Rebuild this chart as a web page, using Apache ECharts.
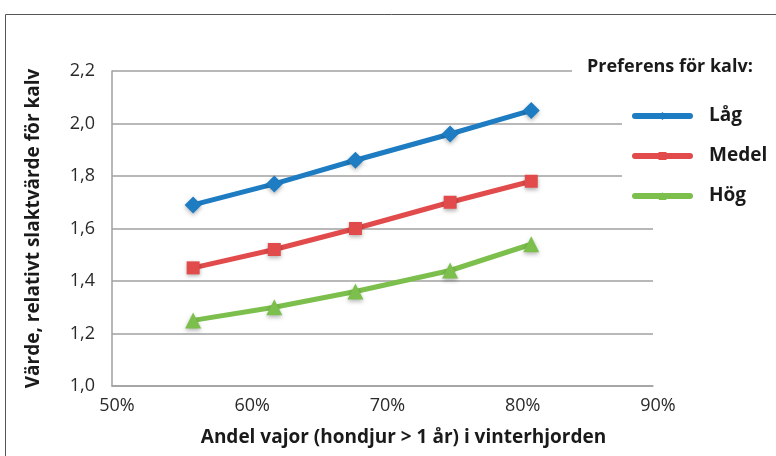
<!DOCTYPE html>
<html>
<head>
<meta charset="utf-8">
<script src="https://cdn.jsdelivr.net/npm/echarts@6/dist/echarts.min.js"></script>
<style>
html,body{margin:0;padding:0;background:#fff;}
#chart{width:776px;height:456px;}
</style>
</head>
<body>
<div id="chart"></div>
<script>
const xValues = [56, 62, 68, 75, 81];
const seriesNames = ['Låg', 'Medel', 'Hög'];
const lagValues = [1.69, 1.77, 1.86, 1.96, 2.05];
const medelValues = [1.45, 1.52, 1.60, 1.70, 1.78];
const hogValues = [1.25, 1.30, 1.36, 1.44, 1.54];
const xTitle = 'Andel vajor (hondjur > 1 år) i vinterhjorden';
const yTitle = 'Värde, relativt slaktvärde för kalv';
const legendTitle = 'Preferens för kalv:';

const FONT = '"Open Sans", "Noto Sans", sans-serif';
const colors = ['#1e7cc2', '#e24b4b', '#7cbf4d'];
const symbols = ['diamond', 'rect', 'triangle'];
const symbolSizes = [17, 13, 16];
const allValues = [lagValues, medelValues, hogValues];

const chart = echarts.init(document.getElementById('chart'), null, {renderer: 'canvas'});

const series = seriesNames.map((name, i) => ({
  name: name,
  type: 'line',
  data: xValues.map((x, j) => [x, allValues[i][j]]),
  symbol: symbols[i],
  symbolSize: symbolSizes[i],
  showSymbol: true,
  lineStyle: {width: 5, color: colors[i]},
  itemStyle: {color: colors[i], shadowBlur: 4, shadowColor: 'rgba(0,0,0,0.3)', shadowOffsetY: 2},
  emphasis: {disabled: true},
  z: 3 + (2 - i)
}));

chart.setOption({
  animation: false,
  textStyle: {fontFamily: FONT},
  graphic: [{
    type: 'rect',
    z: -1,
    shape: {x: 5.5, y: 14.5, width: 800, height: 500},
    style: {fill: 'none', stroke: '#555', lineWidth: 1}
  }],
  title: {
    text: legendTitle,
    left: 572,
    top: 54,
    padding: [4, 4, 4, 15],
    backgroundColor: '#fff',
    textStyle: {fontFamily: FONT, fontSize: 18, fontWeight: 'bold', color: '#1a1a1a'}
  },
  legend: {
    orient: 'vertical',
    left: 622,
    top: 101,
    padding: [5, 10, 5, 10],
    backgroundColor: '#fff',
    itemWidth: 55,
    itemHeight: 10,
    itemGap: 20,
    data: seriesNames,
    lineStyle: {width: 6, cap: 'round'},
    textStyle: {fontFamily: FONT, fontSize: 19, fontWeight: 'bold', color: '#1a1a1a', lineHeight: 20, padding: [0, 0, 0, 14]}
  },
  grid: {left: 112, right: 123, top: 71, bottom: 70, containLabel: false},
  xAxis: {
    type: 'value',
    min: 50,
    max: 90,
    interval: 10,
    name: xTitle,
    nameLocation: 'middle',
    nameGap: 42,
    nameTextStyle: {fontFamily: FONT, fontSize: 19, fontWeight: 'bold', color: '#1a1a1a', padding: [0, 0, 0, 42]},
    axisLine: {show: true, lineStyle: {color: '#a0a0a0', width: 1.5}},
    axisTick: {show: false},
    splitLine: {show: false},
    axisLabel: {
      formatter: v => v + '%',
      fontFamily: FONT, fontSize: 18, color: '#2a2a2a', margin: 11,
      padding: [0, 0, 0, 10]
    }
  },
  yAxis: {
    type: 'value',
    min: 1.0,
    max: 2.2,
    interval: 0.2,
    name: yTitle,
    nameLocation: 'middle',
    nameRotate: 90,
    nameGap: 69,
    nameTextStyle: {fontFamily: FONT, fontSize: 19, fontWeight: 'bold', color: '#1a1a1a'},
    axisLine: {show: true, lineStyle: {color: '#a0a0a0', width: 1.5}},
    axisTick: {show: false},
    splitLine: {show: true, lineStyle: {color: '#a0a0a0', width: 1.5}},
    axisLabel: {
      formatter: v => v.toFixed(1).replace('.', ','),
      fontFamily: FONT, fontSize: 18, color: '#2a2a2a', margin: 17
    }
  },
  series: series
});
</script>
</body>
</html>
